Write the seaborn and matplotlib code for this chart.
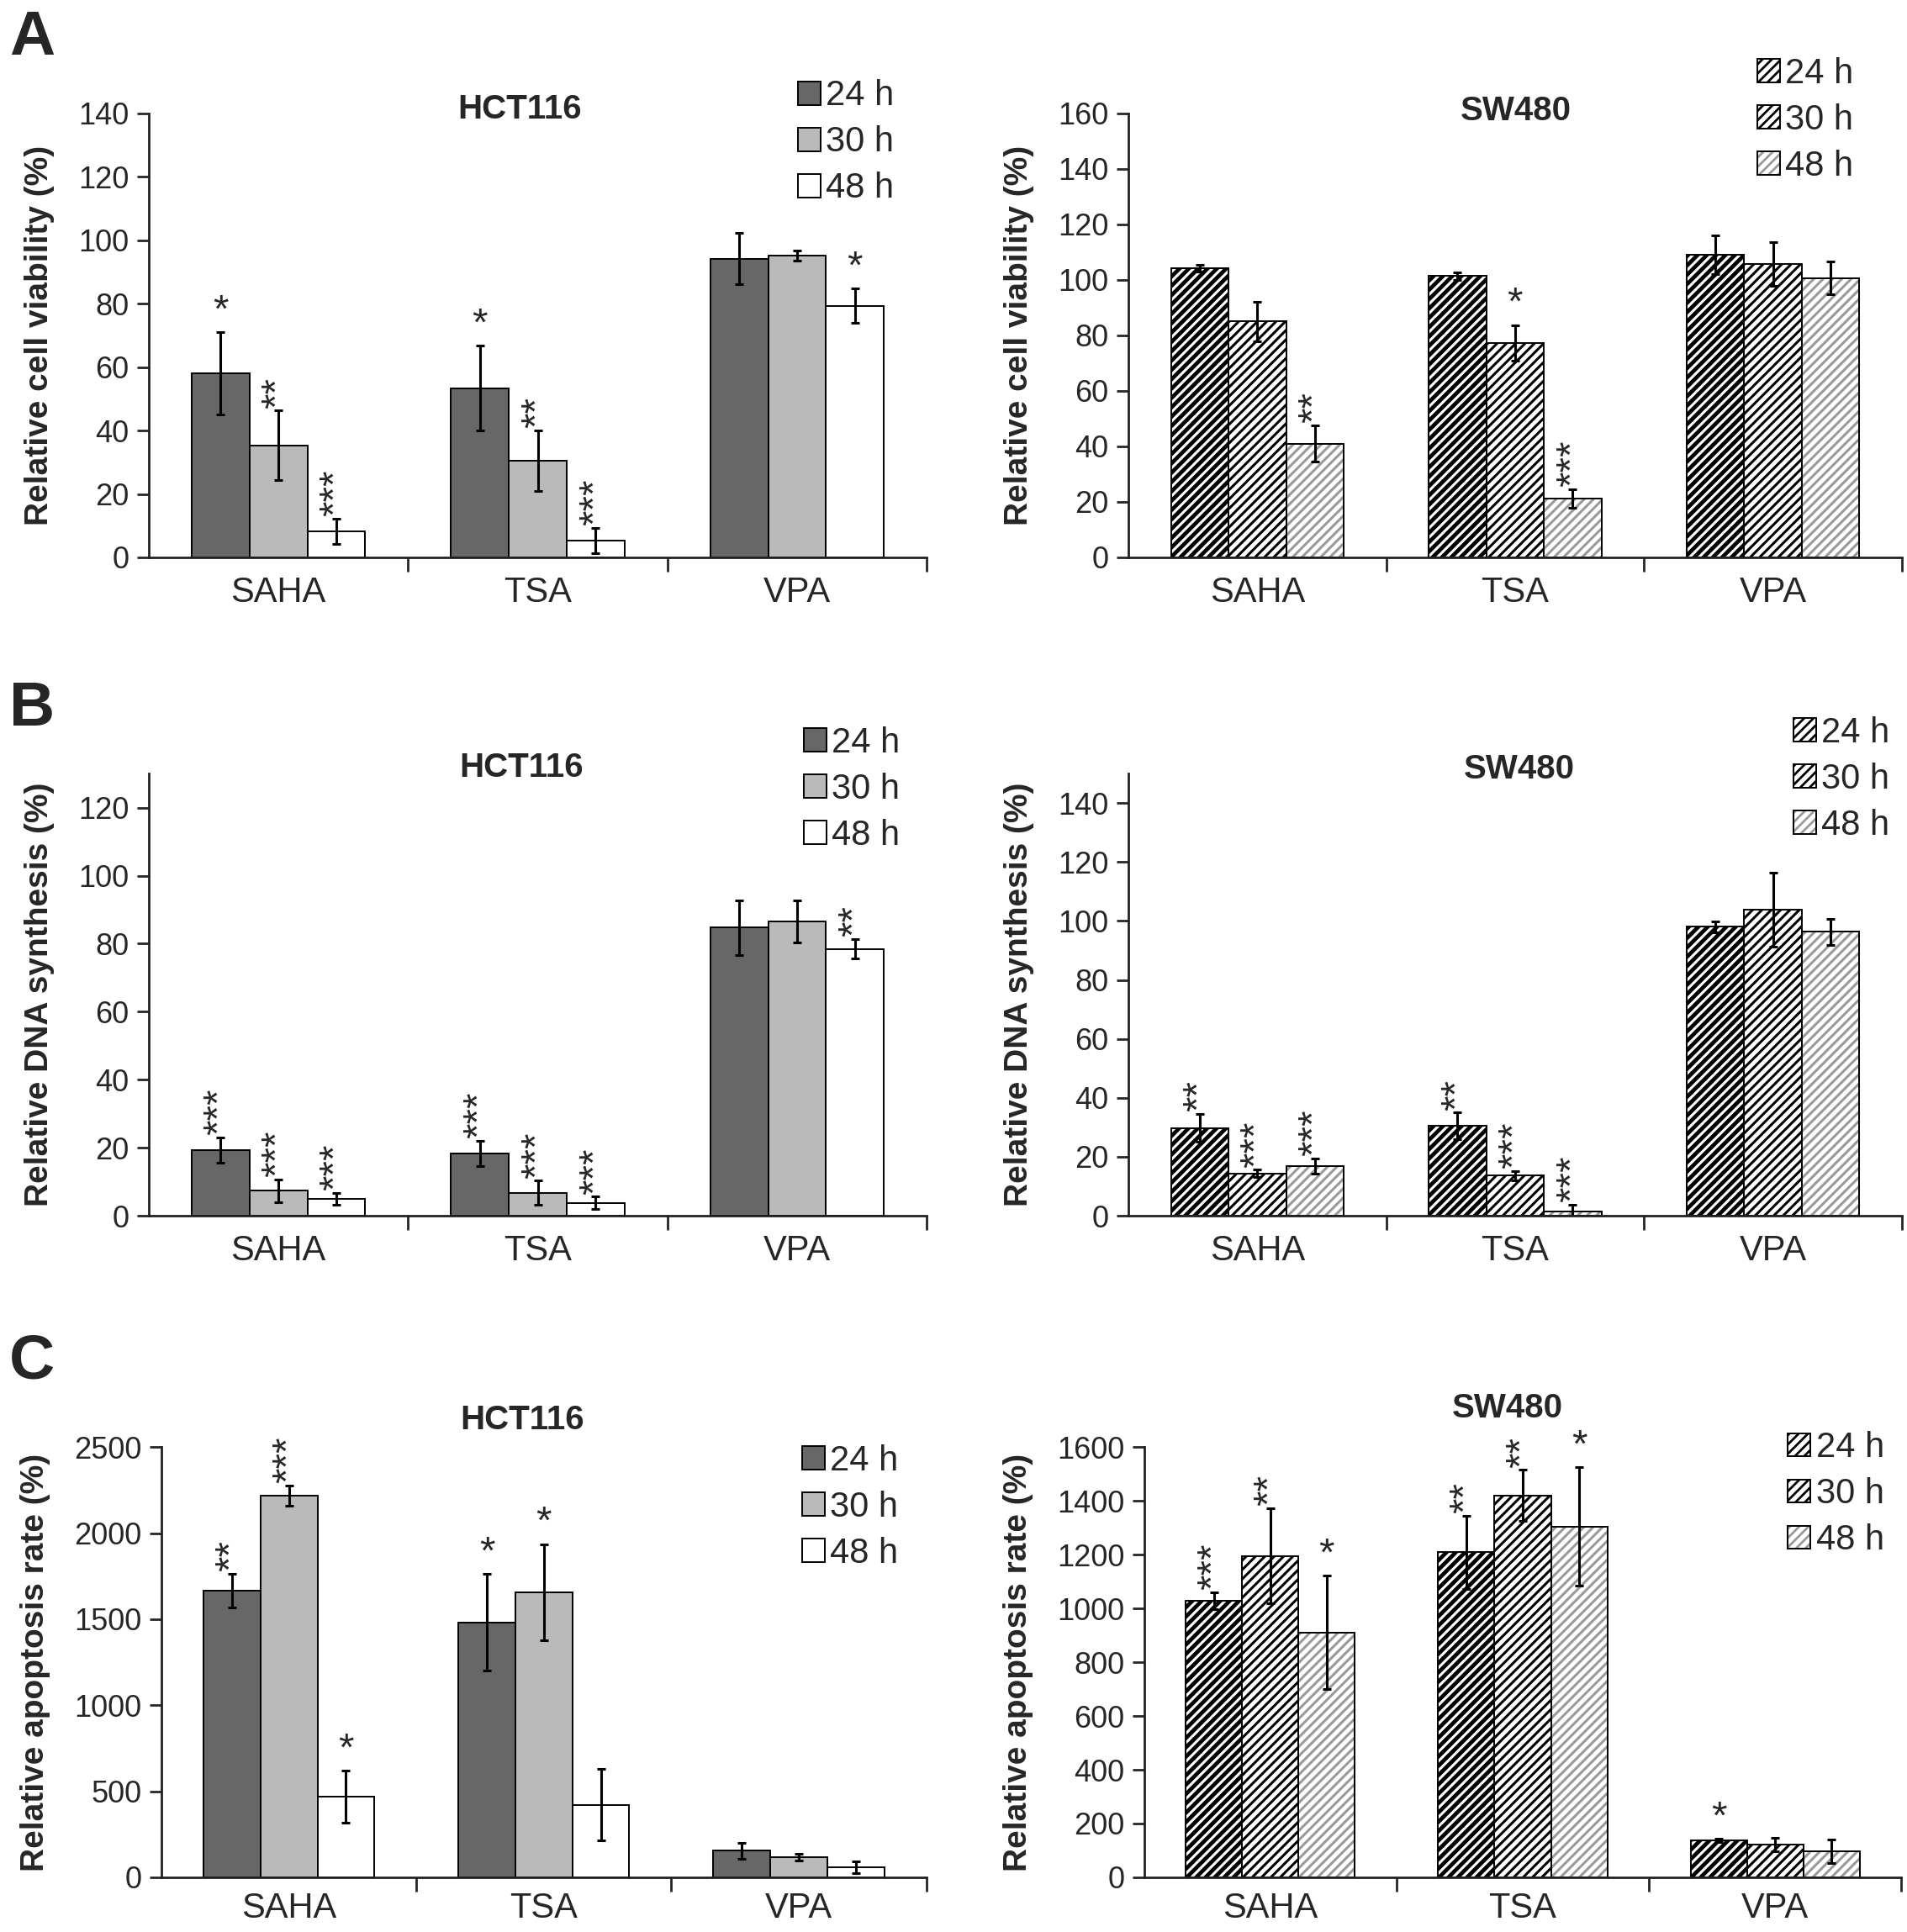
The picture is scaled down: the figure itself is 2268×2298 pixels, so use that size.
import numpy as np
import pandas as pd
import matplotlib
matplotlib.use('Agg')
import matplotlib.pyplot as plt
from matplotlib.patches import Patch
from matplotlib.colors import to_rgba
import seaborn as sns

sns.set_style('ticks')
plt.rcParams['font.family'] = ['Liberation Sans', 'DejaVu Sans']
plt.rcParams['hatch.linewidth'] = 1.0

drugs = ['SAHA', 'TSA', 'VPA']
times = ['24 h', '30 h', '48 h']

# rows = drug, cols = time point
hct_via_mean = [[58.0, 35.3, 8.3], [53.4, 30.5, 5.3], [94.2, 95.2, 79.3]]
hct_via_err = [[13.0, 11.0, 4.0], [13.3, 9.5, 4.0], [8.0, 1.6, 5.4]]
hct_via_sig = [['*', '**', '***'], ['*', '**', '***'], ['', '', '*']]

sw_via_mean = [[104.3, 85.0, 41.0], [101.4, 77.3, 21.2], [109.1, 105.8, 100.7]]
sw_via_err = [[1.2, 7.0, 6.6], [1.4, 6.4, 3.3], [7.0, 7.8, 6.0]]
sw_via_sig = [['', '', '**'], ['', '*', '***'], ['', '', '']]

hct_dna_mean = [[19.3, 7.4, 5.0], [18.3, 6.8, 3.8], [84.7, 86.5, 78.5]]
hct_dna_err = [[3.8, 3.3, 1.8], [3.7, 3.5, 1.8], [8.0, 6.1, 2.9]]
hct_dna_sig = [['***', '***', '***'], ['***', '***', '***'], ['', '', '**']]

sw_dna_mean = [[29.8, 14.4, 16.9], [30.5, 13.6, 1.5], [98.0, 103.9, 96.3]]
sw_dna_err = [[4.7, 1.2, 2.5], [4.5, 1.6, 2.2], [1.8, 12.6, 4.5]]
sw_dna_sig = [['**', '***', '***'], ['**', '***', '***'], ['', '', '']]

hct_apo_mean = [[1667, 2218, 468], [1481, 1655, 421], [155, 118, 58]]
hct_apo_err = [[97, 58, 150], [280, 280, 208], [46, 21, 35]]
hct_apo_sig = [['**', '***', '*'], ['*', '*', ''], ['', '', '']]

sw_apo_mean = [[1029, 1195, 910], [1209, 1420, 1305], [137, 121, 97]]
sw_apo_err = [[32, 177, 211], [136, 95, 220], [6, 25, 43]]
sw_apo_sig = [['***', '**', '*'], ['**', '**', '*'], ['*', '', '']]

solid_colors = ['#676767', '#bababa', '#ffffff']
hatch_colors = ['black', 'black', '#9a9a9a']
hatch_lw = [1.7, 1.1, 1.1]


def style_patch(p, j, hatched):
    if not hatched:
        return
    p.set_hatch('//////')
    p._hatch_color = to_rgba(hatch_colors[j])
    if hasattr(p, 'set_hatch_linewidth'):
        p.set_hatch_linewidth(hatch_lw[j])


def panel(ax, mean, err, sig, hatched, ymax, yticks, title, title_pos, ylabel, leg_xy, xpad=8):
    df = pd.DataFrame([(d, t, mean[i][j]) for i, d in enumerate(drugs)
                       for j, t in enumerate(times)], columns=['drug', 'time', 'value'])
    pal = ['#ffffff'] * 3 if hatched else solid_colors
    sns.barplot(data=df, x='drug', y='value', hue='time', order=drugs, hue_order=times,
                palette=pal, width=0.67, errorbar=None, legend=False, saturation=1,
                edgecolor='black', linewidth=0.7, ax=ax)
    bar_groups = list(ax.containers)
    for j, cont in enumerate(bar_groups):
        for i, bar in enumerate(cont):
            style_patch(bar, j, hatched)
            x = bar.get_x() + bar.get_width() / 2
            h = bar.get_height()
            ax.errorbar(x, h, yerr=err[i][j], color='black', elinewidth=1.1,
                        capsize=1.8, capthick=1.1)
            s = sig[i][j]
            if s:
                ax.annotate(s, (x, h + err[i][j]), xytext=(0, 1), textcoords='offset points',
                            ha='center', va='bottom', fontsize=17,
                            rotation=90 if len(s) > 1 else 0)
    ax.set_ylim(0, ymax)
    ax.set_yticks(yticks)
    ax.set_xlim(-0.5, 2.5)
    ax.set_xticks([0, 1, 2])
    ax.set_xticklabels(drugs, fontsize=15)
    ax.set_xticks([0.5, 1.5, 2.5], minor=True)
    ax.tick_params(axis='x', which='major', length=0, pad=xpad)
    ax.tick_params(axis='x', which='minor', length=6, width=1, direction='out')
    ax.tick_params(axis='y', length=5, width=1, labelsize=13, direction='out')
    ax.set_xlabel('')
    ax.set_ylabel(ylabel, fontsize=14, fontweight='bold', labelpad=10)
    sns.despine(ax=ax)
    for sp in ['left', 'bottom']:
        ax.spines[sp].set_linewidth(1.0)
        ax.spines[sp].set_color('#222222')
    ax.text(title_pos[0], title_pos[1], title, transform=ax.transAxes, ha='center',
            va='center', fontsize=14.5, fontweight='bold')
    handles = []
    for j, t in enumerate(times):
        hp = Patch(facecolor='#ffffff' if hatched else solid_colors[j], edgecolor='black',
                   linewidth=0.7, label=t)
        style_patch(hp, j, hatched)
        handles.append(hp)
    ax.legend(handles=handles, loc='center left', bbox_to_anchor=leg_xy,
              bbox_transform=fig.transFigure, frameon=False, fontsize=15,
              handlelength=0.65, handleheight=0.65, handletextpad=0.15,
              labelspacing=0.36, borderpad=0, borderaxespad=0)


fig = plt.figure(figsize=(11.34, 11.49), dpi=200)

ax1 = fig.add_axes([0.078, 0.7115, 0.408, 0.2298])
ax2 = fig.add_axes([0.5917, 0.7115, 0.4056, 0.2298])
ax3 = fig.add_axes([0.078, 0.3707, 0.408, 0.2289])
ax4 = fig.add_axes([0.5917, 0.3707, 0.4056, 0.2289])
ax5 = fig.add_axes([0.0847, 0.0283, 0.401, 0.2227])
ax6 = fig.add_axes([0.600, 0.0283, 0.397, 0.2227])

panel(ax1, hct_via_mean, hct_via_err, hct_via_sig, False, 140, range(0, 141, 20),
      'HCT116', (0.477, 1.01), 'Relative cell viability (%)', (0.4185, 0.9263))
panel(ax2, sw_via_mean, sw_via_err, sw_via_sig, True, 160, range(0, 161, 20),
      'SW480', (0.501, 1.006), 'Relative cell viability (%)', (0.9215, 0.9378))
panel(ax3, hct_dna_mean, hct_dna_err, hct_dna_sig, False, 130, range(0, 121, 20),
      'HCT116', (0.479, 1.013), 'Relative DNA synthesis (%)', (0.4215, 0.5914))
panel(ax4, sw_dna_mean, sw_dna_err, sw_dna_sig, True, 150, range(0, 141, 20),
      'SW480', (0.505, 1.01), 'Relative DNA synthesis (%)', (0.9405, 0.5966))
panel(ax5, hct_apo_mean, hct_apo_err, hct_apo_sig, False, 2500, range(0, 2501, 500),
      'HCT116', (0.472, 1.062), 'Relative apoptosis rate (%)', (0.4205, 0.2198), xpad=6)
panel(ax6, sw_apo_mean, sw_apo_err, sw_apo_sig, True, 1600, range(0, 1601, 200),
      'SW480', (0.48, 1.091), 'Relative apoptosis rate (%)', (0.9375, 0.2267), xpad=6)

for letter, y in [('A', 0.995), ('B', 0.648), ('C', 0.31)]:
    fig.text(0.005, y, letter, fontsize=27, fontweight='bold', va='top', ha='left')

fig.savefig('out.png', dpi=200, facecolor='white')
